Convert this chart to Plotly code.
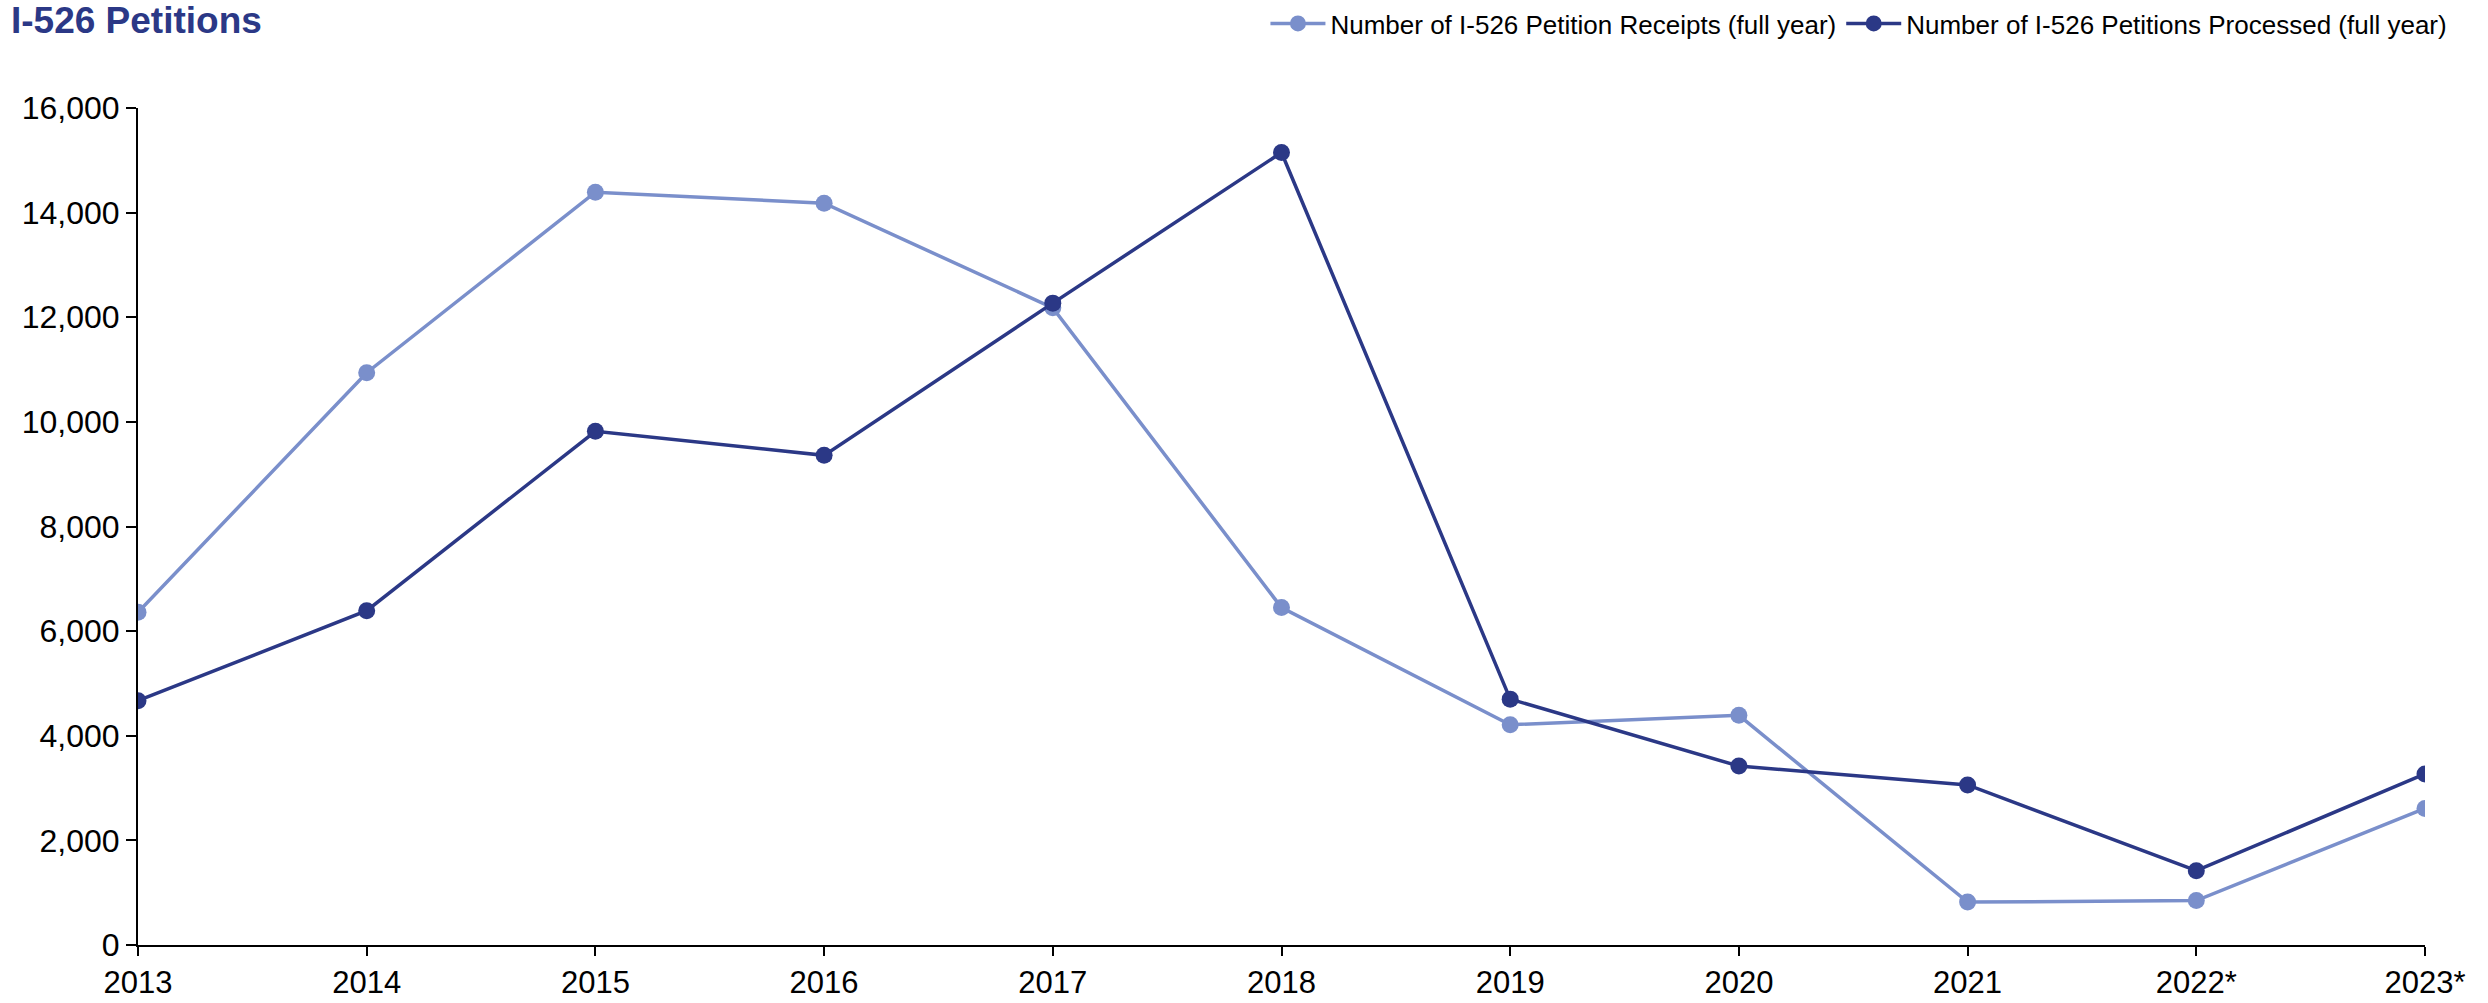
import plotly.graph_objects as go

years = [2013, 2014, 2015, 2016, 2017, 2018, 2019, 2020, 2021, 2022, 2023]
year_labels = ["2013", "2014", "2015", "2016", "2017", "2018", "2019", "2020", "2021", "2022*", "2023*"]
receipts = [6360, 10940, 14390, 14180, 12180, 6450, 4210, 4390, 820, 850, 2610]
processed = [4670, 6390, 9820, 9360, 12270, 15150, 4700, 3420, 3060, 1420, 3270]
y_ticks = [0, 2000, 4000, 6000, 8000, 10000, 12000, 14000, 16000]

light = "#7A8FCB"
dark = "#2B3886"
font_family = "Liberation Sans, Arial, sans-serif"

fig = go.Figure()
fig.add_trace(go.Scatter(x=years, y=receipts, mode="lines+markers",
                         name="Number of I-526 Petition Receipts (full year)",
                         line=dict(color=light, width=3.5), marker=dict(color=light, size=17)))
fig.add_trace(go.Scatter(x=years, y=processed, mode="lines+markers",
                         name="Number of I-526 Petitions Processed (full year)",
                         line=dict(color=dark, width=3.5), marker=dict(color=dark, size=17)))

fig.update_layout(
    width=2488, height=1003,
    paper_bgcolor="white", plot_bgcolor="white",
    margin=dict(l=138, r=63, t=108, b=58, autoexpand=False),
    font=dict(family=font_family, color="black"),
    title=dict(text="<b>I-526 Petitions</b>", x=11 / 2488, xanchor="left", xref="container",
               y=0.993, yanchor="top", yref="container", pad=dict(t=0, l=0),
               font=dict(size=37, color=dark, family=font_family)),
    legend=dict(orientation="h", x=1.012, xanchor="right", y=1.0, yanchor="top", yref="container",
                font=dict(size=26, color="black"), bgcolor="rgba(0,0,0,0)",
                itemwidth=55),
    showlegend=True,
)
fig.update_xaxes(range=[2013, 2023], tickmode="array", tickvals=years, ticktext=year_labels,
                 showline=True, linecolor="black", linewidth=2, ticks="outside", ticklen=9,
                 tickcolor="black", tickwidth=2, showgrid=False, zeroline=False, automargin=False,
                 tickfont=dict(size=31, color="black"))
fig.update_yaxes(range=[0, 16000], tickvals=y_ticks,
                 tickformat=",d", showline=True, linecolor="black", linewidth=2, ticks="outside",
                 ticklen=10, tickcolor="black", tickwidth=2, showgrid=False, zeroline=False,
                 automargin=False, tickfont=dict(size=32, color="black"))

fig.write_html("out.html", config={"displayModeBar": False},
               post_script="document.body.style.margin='0';document.body.style.overflow='hidden';")
